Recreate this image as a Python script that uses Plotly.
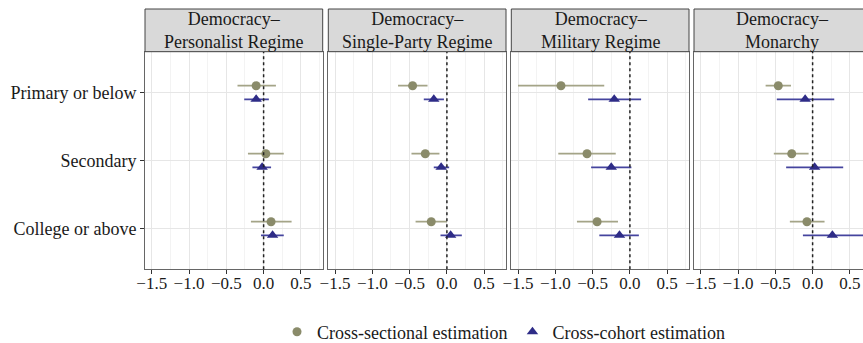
import plotly.graph_objects as go

categories = ["Primary or below", "Secondary", "College or above"]
panel_titles = ["Democracy–<br>Personalist Regime", "Democracy–<br>Single-Party Regime",
                "Democracy–<br>Military Regime", "Democracy–<br>Monarchy"]
x_ticks = [-1.5, -1.0, -0.5, 0.0, 0.5]
x_tick_labels = ["−1.5", "−1.0", "−0.5", "0.0", "0.5"]

# Cross-sectional estimation (est, low, high) per panel
pers_cs_est = [-0.10, 0.03, 0.10]
pers_cs_lo = [-0.35, -0.21, -0.17]
pers_cs_hi = [0.165, 0.27, 0.375]
sp_cs_est = [-0.46, -0.29, -0.21]
sp_cs_lo = [-0.655, -0.475, -0.42]
sp_cs_hi = [-0.26, -0.10, 0.0]
mil_cs_est = [-0.924, -0.575, -0.44]
mil_cs_lo = [-1.50, -0.96, -0.71]
mil_cs_hi = [-0.344, -0.19, -0.16]
mon_cs_est = [-0.46, -0.28, -0.076]
mon_cs_lo = [-0.63, -0.52, -0.305]
mon_cs_hi = [-0.29, -0.054, 0.16]

# Cross-cohort estimation
pers_cc_est = [-0.10, -0.02, 0.12]
pers_cc_lo = [-0.26, -0.15, -0.035]
pers_cc_hi = [0.07, 0.10, 0.27]
sp_cc_est = [-0.176, -0.077, 0.05]
sp_cc_lo = [-0.31, -0.176, -0.086]
sp_cc_hi = [-0.04, 0.03, 0.20]
mil_cc_est = [-0.21, -0.25, -0.14]
mil_cc_lo = [-0.56, -0.52, -0.41]
mil_cc_hi = [0.15, 0.02, 0.12]
mon_cc_est = [-0.10, 0.027, 0.265]
mon_cc_lo = [-0.48, -0.355, -0.13]
mon_cc_hi = [0.29, 0.41, 0.70]

cs_data = [(pers_cs_est, pers_cs_lo, pers_cs_hi), (sp_cs_est, sp_cs_lo, sp_cs_hi),
           (mil_cs_est, mil_cs_lo, mil_cs_hi), (mon_cs_est, mon_cs_lo, mon_cs_hi)]
cc_data = [(pers_cc_est, pers_cc_lo, pers_cc_hi), (sp_cc_est, sp_cc_lo, sp_cc_hi),
           (mil_cc_est, mil_cc_lo, mil_cc_hi), (mon_cc_est, mon_cc_lo, mon_cc_hi)]

W, H = 863, 343
FONT = "'Liberation Serif', 'Times New Roman', 'DejaVu Serif', serif"
CS_COL, CS_LINE = "#8A8B6A", "#A4A487"
CC_COL, CC_LINE = "#2E2C87", "#45449E"

# panel pixel extents (full, unclipped)
panel_left = [145, 328.3, 511.3, 694]
panel_w = 177.7
px_per_unit = 74.6
x_min = -1.59
top_px, bot_px = 51.7, 269.3
strip_top = 9


def fx(p):
    return p / W


def fy(p):
    return (H - p) / H


fig = go.Figure()
y_pos = [1, 2, 3]
for i in range(4):
    ax = "" if i == 0 else str(i + 1)
    xa, ya = "x" + ax, "y" + ax
    est, lo, hi = cs_data[i]
    fig.add_trace(go.Scatter(
        x=est, y=[v - 0.1 for v in y_pos], mode="markers", xaxis=xa, yaxis=ya,
        marker=dict(symbol="circle", size=9, color=CS_COL),
        error_x=dict(type="data", symmetric=False,
                     array=[h - e for h, e in zip(hi, est)],
                     arrayminus=[e - l for e, l in zip(est, lo)],
                     color=CS_LINE, thickness=1.7, width=0),
        name="Cross-sectional estimation", showlegend=(i == 0), legendgroup="cs"))
    est, lo, hi = cc_data[i]
    fig.add_trace(go.Scatter(
        x=est, y=[v + 0.1 for v in y_pos], mode="markers", xaxis=xa, yaxis=ya,
        marker=dict(symbol="triangle-up", size=10, color=CC_COL),
        error_x=dict(type="data", symmetric=False,
                     array=[h - e for h, e in zip(hi, est)],
                     arrayminus=[e - l for e, l in zip(est, lo)],
                     color=CC_LINE, thickness=1.7, width=0),
        name="Cross-cohort estimation", showlegend=(i == 0), legendgroup="cc"))

layout = dict(
    width=W, height=H, margin=dict(l=0, r=0, t=0, b=0, pad=0, autoexpand=False),
    paper_bgcolor="white", plot_bgcolor="white",
    font=dict(family=FONT, size=18, color="#1a1a1a"),
    legend=dict(orientation="h", x=fx(277), xanchor="left", y=fy(332), yanchor="middle",
                font=dict(size=18, family=FONT, color="#1a1a1a"), itemwidth=30,
                bgcolor="rgba(0,0,0,0)"),
    shapes=[], annotations=[],
)
ydom = [fy(bot_px), fy(top_px)]
for i in range(4):
    sfx = "" if i == 0 else str(i + 1)
    left = panel_left[i]
    right = min(left + panel_w, W)
    x_max = x_min + (right - left) / px_per_unit
    layout["xaxis" + sfx] = dict(
        domain=[fx(left), min(fx(right), 1.0)], range=[x_min, x_max], anchor="y" + sfx,
        automargin=False,
        tickvals=x_ticks, ticktext=x_tick_labels, ticks="outside", ticklen=4,
        ticklabelstandoff=-6,
        tickcolor="#333", tickfont=dict(size=17, color="#1a1a1a", family=FONT),
        showgrid=True, gridcolor="#E6E6E6", gridwidth=1, zeroline=False,
        minor=dict(tickvals=[-1.25, -0.75, -0.25, 0.25, 0.75], showgrid=True,
                   gridcolor="#F3F3F3", gridwidth=0.8, ticks=""),
        showline=True, linecolor="#666", linewidth=1, mirror=True,
    )
    layout["yaxis" + sfx] = dict(
        domain=ydom, range=[3.6, 0.4], anchor="x" + sfx,
        automargin=False,
        tickvals=y_pos, ticktext=categories if i == 0 else ["", "", ""],
        ticks="outside" if i == 0 else "", ticklen=4, tickcolor="#333",
        tickfont=dict(size=18, color="#1a1a1a", family=FONT),
        showgrid=True, gridcolor="#E6E6E6", gridwidth=1, zeroline=False,
        showline=True, linecolor="#666", linewidth=1, mirror=(i < 3),
    )
    layout["shapes"].append(dict(type="line", xref="x" + sfx, yref="y" + sfx + " domain",
                                 x0=0, x1=0, y0=0, y1=1,
                                 line=dict(color="#222", width=1.5, dash="dot")))
    layout["shapes"].append(dict(type="rect", xref="paper", yref="paper",
                                 x0=fx(left), x1=fx(left + panel_w),
                                 y0=fy(top_px), y1=fy(strip_top),
                                 fillcolor="#D9D9D9", line=dict(color="#444", width=1)))
    layout["annotations"].append(dict(text=panel_titles[i], xref="paper", yref="paper",
                                      x=fx(left + panel_w / 2),
                                      y=fy((top_px + strip_top) / 2),
                                      xanchor="center", yanchor="middle", showarrow=False,
                                      font=dict(size=18, color="#1a1a1a", family=FONT)))

fig.update_layout(**layout)
fig.write_html(
    "out.html",
    config={"displayModeBar": False},
    post_script="document.body.style.margin='0';document.body.style.overflow='hidden';",
)
